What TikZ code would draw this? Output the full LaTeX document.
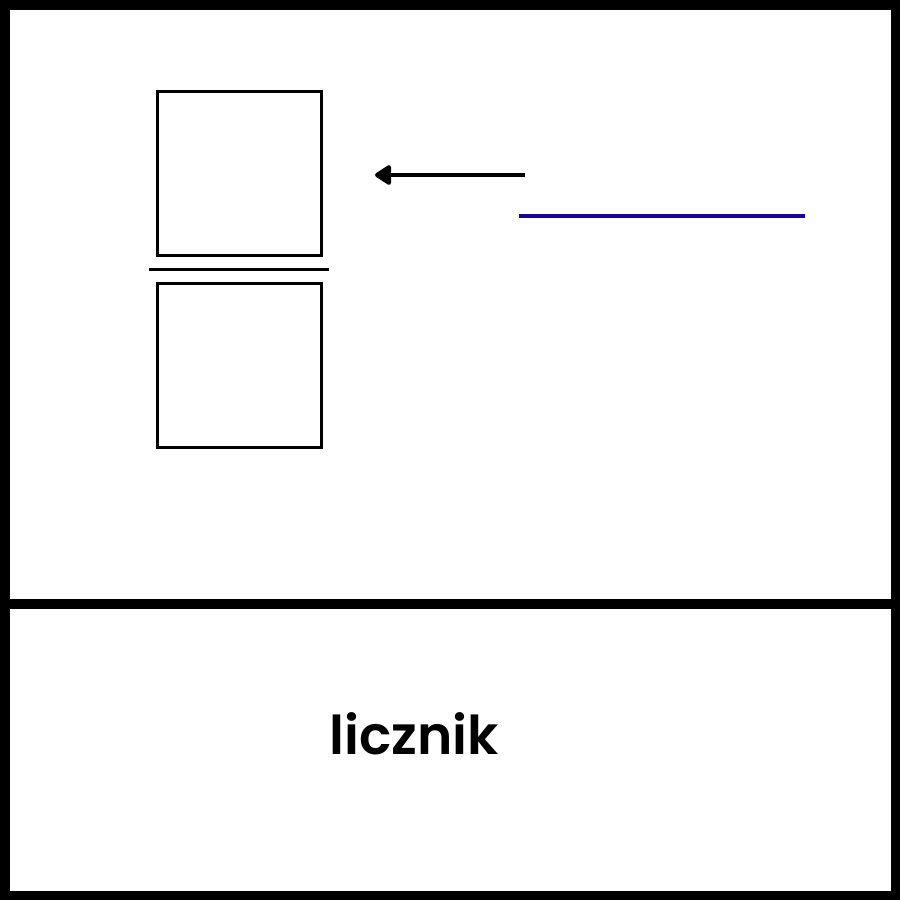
\documentclass[tikz,border=0pt]{standalone}
\usepackage{fontspec}
\setmainfont{Poppins}[BoldFont={Poppins SemiBold}]
\usetikzlibrary{arrows.meta}
\definecolor{lineblue}{RGB}{30,0,170}
\tikzset{
  frame/.style={line width=9.5pt, draw=black},
  sq/.style={draw=black, line width=2.6pt, minimum width=164pt, minimum height=164pt, inner sep=0pt},
  lbl/.style={font=\fontsize{53.5}{60}\selectfont\bfseries, inner sep=0pt}
}
\begin{document}
\begin{tikzpicture}[x=1pt,y=-1pt]
\useasboundingbox (0,0) rectangle (900,900);
\fill[white] (0,0) rectangle (900,900);
\draw[frame] (4.75,4.75) rectangle (895.25,895.25);
\coordinate (dl) at (0,604);
\coordinate (dr) at (900,604);
\draw[frame] (dl) -- (dr);
\node[sq] (top) at (239.5,173.5) {};
\node[sq] (bot) at (239.5,365.5) {};
\coordinate (sepl) at (149,269.5);
\coordinate (sepr) at (329,269.5);
\draw[line width=3pt] (sepl) -- (sepr);
\coordinate (arrt) at (525,175);
\coordinate (arrh) at (375,175);
\draw[line width=4.2pt, -{Triangle[round, length=18pt, width=22pt]}] (arrt) -- (arrh);
\coordinate (bl) at (519,216);
\coordinate (br) at (805,216);
\draw[lineblue, line width=3.5pt] (bl) -- (br);
\node[lbl, anchor=base] (txt) at (414,754) {licznik};
\end{tikzpicture}
\end{document}
